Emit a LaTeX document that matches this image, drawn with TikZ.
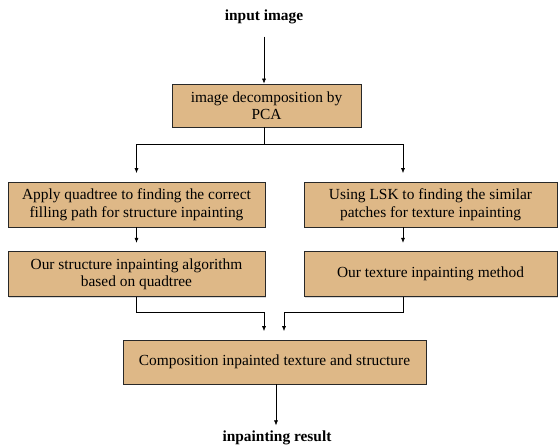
\documentclass[tikz,border=0pt]{standalone}
\usepackage{fontspec}
\setmainfont{Liberation Serif}
\usetikzlibrary{arrows.meta, positioning, shadows}
\definecolor{boxtan}{RGB}{222,184,135}
\definecolor{boxedge}{RGB}{40,40,40}

\begin{document}
\begin{tikzpicture}[x=1pt, y=-1pt,
  stage/.style={rectangle, draw=boxedge, fill=boxtan, align=center, inner sep=2pt, line width=0.7pt, font=\fontsize{15.4}{17.5}\selectfont, drop shadow={shadow xshift=1.2pt, shadow yshift=-1.2pt, opacity=0.3}},
  io/.style={font=\fontsize{15.4}{17.5}\selectfont\bfseries},
  arr/.style={-{Latex[length=5pt, width=4pt]}, line width=0.6pt},
  gap/.style={shorten >=8.5pt}
]
\useasboundingbox (0,0) rectangle (558,448);
\node[io] (in) at (264,17) {input image};
\node[stage, minimum width=189pt, minimum height=43pt] (pca) at (266.5,105.5) {image decomposition by\\PCA};
\node[stage, minimum width=257pt, minimum height=45pt] (quad) at (136.5,204.5) {Apply quadtree to finding the correct\\filling path for structure inpainting};
\node[stage, minimum width=253pt, minimum height=45pt] (lsk) at (430.5,204.5) {Using LSK to finding the similar\\patches for texture inpainting};
\node[stage, minimum width=257pt, minimum height=45pt, below=24pt of quad] (salg) {Our structure inpainting algorithm\\based on quadtree};
\node[stage, minimum width=253pt, minimum height=45pt, below=24pt of lsk] (tex) {Our texture inpainting method};
\node[stage, minimum width=303pt, minimum height=44pt] (comp) at (274.5,362) {Composition inpainted texture and structure};
\node[io] (out) at (277,438) {inpainting result};
% split after decomposition
\coordinate (split) at (264,144);
\coordinate (join) at (274,312);
\draw[arr, shorten <=9pt] (in) -- (pca.north -| in);
\draw (pca.south -| split) -- (split);
\draw[arr, gap] (split) -| (quad.north);
\draw[arr, gap] (split) -| ([xshift=-27.5pt]lsk.north);
\draw[arr, gap] (quad) -- (salg);
\draw[arr, gap] ([xshift=-27.5pt]lsk.south) -- ([xshift=-27.5pt]tex.north);
% merge into composition
\draw[arr, gap] (salg.south) |- ([xshift=-10pt]join) -- ([xshift=-10pt]join |- comp.north);
\draw[arr, gap] ([xshift=-27.5pt]tex.south) |- ([xshift=10pt]join) -- ([xshift=10pt]join |- comp.north);
\draw[arr, shorten >=2pt] ([xshift=1.5pt]comp.south) -- ([xshift=1.5pt]comp.south |- out.north);
\end{tikzpicture}
\end{document}
